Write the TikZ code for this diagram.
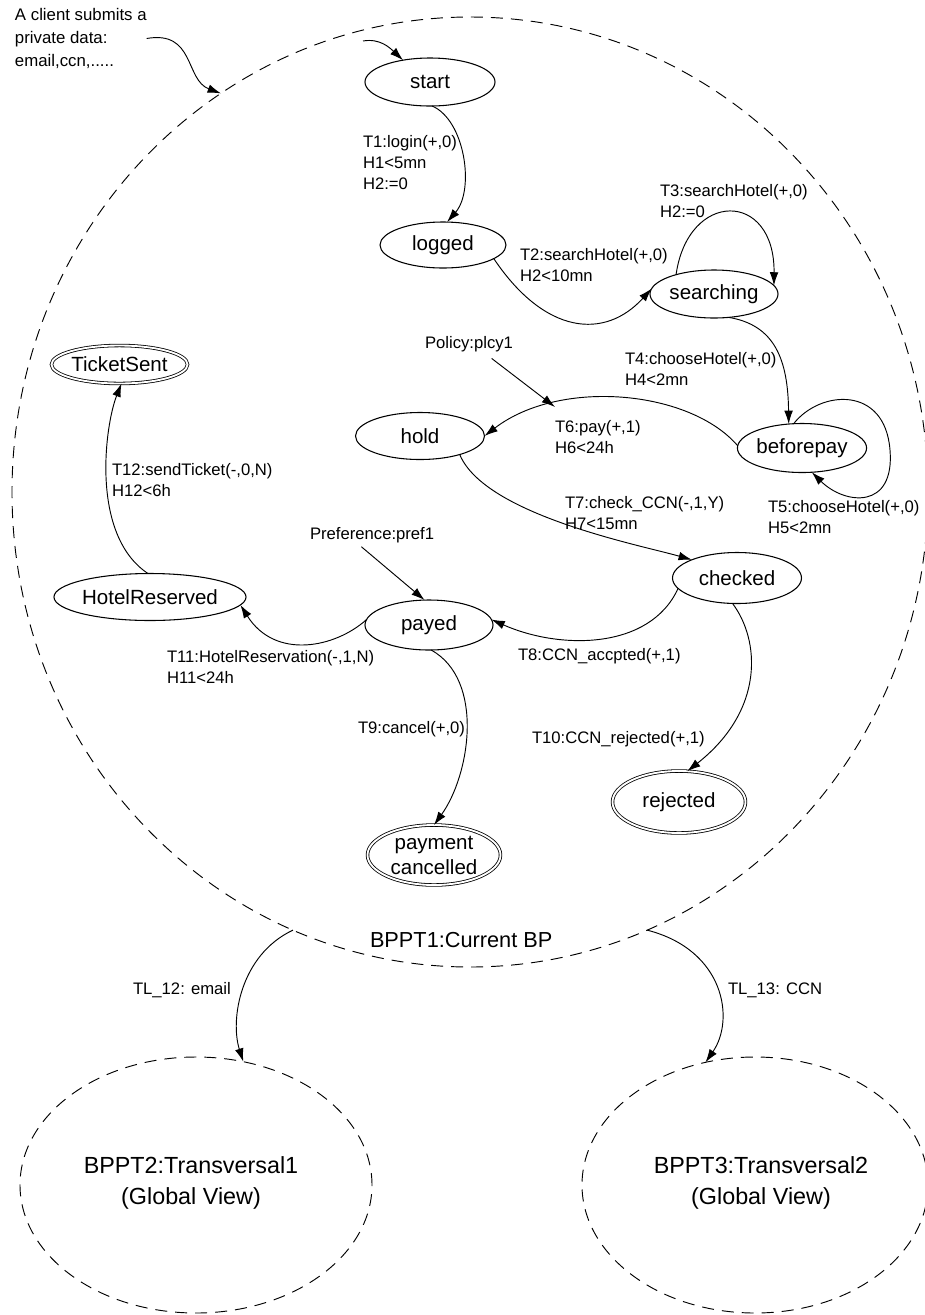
\documentclass[tikz,border=0pt]{standalone}
\usepackage{fontspec}
\setmainfont{Liberation Sans}
\usetikzlibrary{shapes.geometric,arrows.meta}

\begin{document}
\begin{tikzpicture}[x=0.75pt,y=-0.75pt,
  every node/.style={inner sep=0pt, outer sep=0pt},
  stnode/.style={ellipse, draw, line width=0.8pt, align=center,
    font=\fontsize{15.4}{18.75}\selectfont},
  endnode/.style={stnode, double, double distance=1.4pt, line width=0.6pt},
  lbl/.style={anchor=west, align=left, font=\fontsize{12.5}{15.75}\selectfont},
  trans/.style={line width=0.7pt, -{Latex[length=10pt,width=6.5pt]}},
  zone/.style={ellipse, draw, dash pattern=on 9pt off 6pt, line width=0.7pt},
]
\useasboundingbox (0,0) rectangle (925,1315);
\fill[white] (0,0) rectangle (925,1315);

% process boundaries
\node[zone, minimum width=687pt, minimum height=712.5pt] (bp1) at (470,492) {};
\node[zone, minimum width=264pt, minimum height=192pt] (bp2) at (196,1185) {};
\node[zone, minimum width=259.5pt, minimum height=192pt] (bp3) at (755,1185) {};

\node[anchor=west, font=\fontsize{16.3}{20}\selectfont] (bp1name) at (370,940) {BPPT1:Current BP};
\node[align=center, font=\fontsize{17.5}{23.25}\selectfont] (bp2name) at (191,1182.5)
  {BPPT2:Transversal1\\(Global View)};
\node[align=center, font=\fontsize{17.5}{23.25}\selectfont] (bp3name) at (761,1182.5)
  {BPPT3:Transversal2\\(Global View)};

% states
\node[stnode, minimum width=97.5pt, minimum height=36pt] (start) at (430,82) {start};
\node[stnode, minimum width=94.5pt, minimum height=34.5pt] (logged) at (443,245) {logged};
\node[stnode, minimum width=96pt, minimum height=36pt] (search) at (714,294) {searching};
\node[stnode, minimum width=96.75pt, minimum height=36.75pt] (before) at (802,448) {beforepay};
\node[stnode, minimum width=96.75pt, minimum height=35.25pt] (hold) at (420,436) {hold};
\node[stnode, minimum width=96.75pt, minimum height=38.25pt] (checked) at (737,578) {checked};
\node[stnode, minimum width=96pt, minimum height=37.5pt] (payed) at (429,625) {payed};
\node[stnode, minimum width=116.25pt, minimum height=35.25pt] (hres) at (150,597) {HotelReserved};
\node[endnode, minimum width=99pt, minimum height=28.5pt] (ticket) at (119.5,364.5) {TicketSent};
\node[endnode, minimum width=99.75pt, minimum height=46.5pt] (rejected) at (679,802) {rejected};
\node[endnode, minimum width=99.75pt, minimum height=45pt] (cancel) at (434,855) {payment\\cancelled};

% client input
\node[lbl, font=\fontsize{12.6}{17.25}\selectfont] (client) at (15,38.5)
  {A client submits a\\private data:\\email,ccn,.....};
\draw[trans] (client.east) .. controls (195,30) and (185,80) .. (bp1.122.2);
\coordinate (entry) at (363,41);
\draw[trans] (entry) .. controls (380,38) and (390,48) .. (start.141);

% transitions
\draw[trans] (start.275) .. controls (465,120) and (475,190) .. (logged.80);
\draw[trans] (logged.-15) .. controls (545,335) and (605,340) .. (search.175);
\draw[trans] (search.153) .. controls (688,190) and (775,190) .. (search.8);
\draw[trans] (search.302) .. controls (775,325) and (788,360) .. (before.119);
\draw[trans] (before.109) .. controls (820,390) and (885,385) .. (890,450)
                          .. controls (895,510) and (845,505) .. (before.292);
\draw[trans] (before.178) .. controls (690,390) and (560,378) .. (hold.0);
\draw[trans] (hold.-25) .. controls (485,515) and (640,545) .. (checked.158);
\draw[trans] (checked.190) .. controls (650,650) and (560,650) .. (payed.5);
\draw[trans] (payed.275) .. controls (485,680) and (470,775) .. (cancel.90);
\draw[trans] (checked.260) .. controls (760,640) and (765,710) .. (rejected.75);
\draw[trans] (payed.175) .. controls (335,648) and (275,660) .. (hres.355);
\draw[trans] (hres.95) .. controls (90,535) and (105,425) .. (ticket.276);

% transition labels
\node[lbl] (l1) at (363,163) {T1:login(+,0)\\H1<5mn\\H2:=0};
\node[lbl] (l2) at (520,265.5) {T2:searchHotel(+,0)\\H2<10mn};
\node[lbl] (l3) at (660,201.5) {T3:searchHotel(+,0)\\H2:=0};
\node[lbl] (l4) at (625,369) {T4:chooseHotel(+,0)\\H4<2mn};
\node[lbl] (l5) at (768,517.5) {T5:chooseHotel(+,0)\\H5<2mn};
\node[lbl] (l6) at (555,437.5) {T6:pay(+,1)\\H6<24h};
\node[lbl] (l7) at (565,513) {T7:check\_CCN(-,1,Y)\\H7<15mn};
\node[lbl] (l8) at (518,656) {T8:CCN\_accpted(+,1)};
\node[lbl] (l9) at (358,729) {T9:cancel(+,0)};
\node[lbl] (l10) at (532,739) {T10:CCN\_rejected(+,1)};
\node[lbl] (l11) at (167,667) {T11:HotelReservation(-,1,N)\\H11<24h};
\node[lbl] (l12) at (112,480.5) {T12:sendTicket(-,0,N)\\H12<6h};

% policy and preference annotations
\node[lbl] (pol) at (425,344) {Policy:plcy1};
\coordinate (poltip) at (555,407);
\draw[trans] ([xshift=17pt,yshift=-5pt]pol.south) -- (poltip);
\node[lbl] (pref) at (310,535) {Preference:pref1};
\draw[trans] ([xshift=-8pt,yshift=-3pt]pref.south) -- (payed.100);

% links between processes
\draw[trans] (bp1.248.5) .. controls (240,955) and (230,1020) .. (bp2.69.4);
\draw[trans] (bp1.292.3) .. controls (725,950) and (735,1020) .. (bp3.112.3);
\node[lbl] (tl12) at (133,990) {TL\_12: email};
\node[lbl] (tl13) at (728,990) {TL\_13: CCN};
\end{tikzpicture}
\end{document}
